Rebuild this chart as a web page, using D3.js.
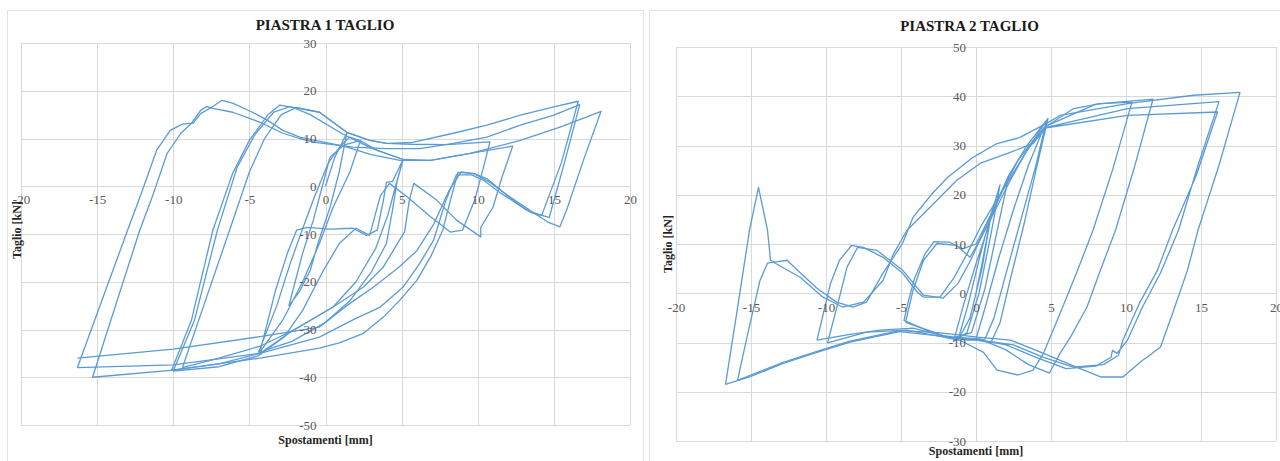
<!DOCTYPE html>
<html>
<head>
<meta charset="utf-8">
<script src="https://cdn.jsdelivr.net/npm/d3@7"></script>
<style>
	body { margin: 0; background: #ffffff; }
	.tick_label { font-family: "Liberation Serif", "Times New Roman", serif; font-size: 13px; fill: #595959; }
	.title { font-family: "Liberation Serif", "Times New Roman", serif; font-size: 15px; font-weight: bold; fill: #1a1a1a; }
	.axis_title { font-family: "Liberation Serif", "Times New Roman", serif; font-size: 12px; font-weight: bold; fill: #262626; }
	.grid line { stroke: #d9d9d9; stroke-width: 1; shape-rendering: crispEdges; }
	.panel { fill: none; stroke: #e3e3e3; stroke-width: 1; shape-rendering: crispEdges; }
	.loop { fill: none; stroke: #5b9bd5; stroke-width: 1.3; stroke-linejoin: round; }
</style>
</head>
<body>
<div id="chart"></div>
<script>
// tick values, same x axis for both plates
const x_ticks = [-20, -15, -10, -5, 0, 5, 10, 15, 20];
const p1_y_ticks = [-50, -40, -30, -20, -10, 0, 10, 20, 30];
const p2_y_ticks = [-30, -20, -10, 0, 10, 20, 30, 40, 50];

const p1_title = "PIASTRA 1 TAGLIO";
const p2_title = "PIASTRA 2 TAGLIO";
const x_title = "Spostamenti [mm]";
const y_title = "Taglio [kN]";

// PIASTRA 1 - cycles [spostamento, taglio]
const p1_cycle1 = [[0,0],[0.6,6],[1.4,11.1],[0.9,3],[0.3,-4.4],[-0.5,-12],[-1.0,-17.6],[-1.7,-22],[-2.4,-25],[-1.5,-14],[-0.8,-7.1],[0.3,6.1],[1.2,8.6],[2.3,9.6],[1.6,3],[0.5,-4.4],[-0.4,-12],[-1.5,-20],[-2.8,-28],[-4.3,-34.7]];
const p1_cycle2 = [[-4.3,-34.7],[-3.3,-22],[-2.5,-14],[-1.9,-9.2],[-1.2,-8.6],[0.3,-9.0],[1.8,-8.8],[2.7,-10.3],[3.4,-9.2],[3.8,-3],[4.0,0.8],[4.4,1.0],[5.1,5.6],[4.7,1],[4.4,-5],[4.0,-12],[3.0,-18],[1.6,-24],[0,-28.5],[-2.2,-32.5],[-4.4,-34.8],[-3.2,-25],[-2.3,-16],[-1.4,-8],[-0.7,-2],[0.2,5],[1.0,8.5],[1.6,10.3],[2.3,9.5],[3.4,7.5],[5.1,5.6],[4.6,0],[4.1,-6],[3.3,-13],[2,-20],[0.5,-25.3],[-2.1,-30.1],[-4.3,-35]];
const p1_cycle3 = [[-4.3,-35],[-7,-37.2],[-10.1,-38.5],[-8.8,-28],[-7.4,-9.2],[-6.1,2.7],[-5.0,9.6],[-3.8,14.9],[-3.0,17],[-2,16.4],[-0.4,15.5],[1.4,11.3],[2.9,9.6],[4.0,9.0],[5.7,8.8],[8,8.7],[10.8,9.3],[10.3,3],[9.8,-2.9],[9.0,-9.2],[8.2,-9.6],[6.9,-6.4],[5.4,-2.3],[4.2,0.6],[3.6,-2],[2.9,-10.3],[2.0,-8.8],[0.9,-12],[-0.2,-18],[-1.5,-26],[-2.7,-31.5],[-4.4,-35.5],[-7,-37.8],[-10,-38.7]];
const p1_cycle4 = [[-10,-38.7],[-8.6,-28],[-7.1,-9.2],[-5.8,4],[-4.6,11],[-3.4,15.5],[-2.3,16.7],[-1,15],[1.1,11],[3,8],[5.1,5.6],[6.9,5.4],[9.5,6.9],[12.3,8.4],[11.6,2],[11.0,-4.4],[10.2,-8.6],[10.2,-10.6],[8.6,-7.1],[7.3,-2.9],[5.8,0.6],[5.5,-3],[5.2,-9.5],[3.8,-16.9],[2.5,-21.1],[0.5,-25.3],[-2,-30],[-4.3,-33.5],[-7,-36],[-9.4,-38]];
const p1_cycle5 = [[-9.4,-38],[-8,-25],[-6.3,-9.2],[-5,3],[-4,10],[-2.9,15],[-1.9,16.5],[-0.4,15.5],[1.4,11.3],[2.9,9.6],[4.0,9.0],[5.7,9.2],[8.4,11.1],[10.6,12.8],[12.8,14.9],[15,16.6],[16.6,17.8],[15.5,5],[14.2,-6.1],[13.2,-5.0],[12.3,-2.9],[11.5,-0.8],[10.6,1.6],[9.7,2.7],[8.7,2.9],[8.2,-3],[7.7,-9.2],[6.9,-14.8],[6.0,-19.7],[4.9,-23.8],[3.8,-27.4],[2.5,-30.8],[0.9,-32.8],[-0.4,-33.9],[-4.3,-36],[-10,-38.5],[-15.3,-40]];
const p1_cycle6 = [[-15.3,-40],[-12.2,-9.2],[-11.3,-1.5],[-10.4,6.9],[-9.5,11.1],[-8.8,13.2],[-8.2,15.9],[-7.8,16.7],[-7.4,16.3],[-6.1,15.5],[-4.3,13.4],[-2.8,11.1],[-1.7,10.0],[-0.7,9.2],[1.8,8.2],[4.0,7.9],[6.2,7.9],[8.4,9.0],[10.6,10.3],[12.8,12.8],[15.0,14.9],[16.7,17.1],[15.7,5],[14.7,-6.5],[13.5,-5.5],[12.5,-3.5],[11.4,-1.2],[10.4,1.2],[9.6,2.4],[8.6,2.4],[7.9,-3],[7.1,-11.3],[6.2,-16.1],[5.1,-21.1],[3.6,-25.3],[1.8,-28],[-0.4,-31.6],[-4.3,-35],[-10,-37.4],[-16.3,-38]];
const p1_cycle7 = [[-16.3,-38],[-13.0,-9.2],[-12.1,-1.5],[-11.1,7.5],[-10.2,11.7],[-9.4,13.0],[-8.7,13.2],[-8.2,15.2],[-7.4,16.7],[-6.8,18.0],[-6.1,17.4],[-4.8,15.5],[-3.8,13.8],[-2.8,11.7],[-1.7,10.3],[-0.7,9.6],[1.2,8.4],[3,6.6],[4.9,5.4],[6.9,5.4],[9.5,6.9],[12.8,9.6],[15.5,12.5],[18.1,15.7],[17,6],[15.9,-4.4],[15.4,-8.5],[14.6,-7.5],[13.4,-5],[12,-2],[10.8,0.8],[9.8,2.6],[8.9,3.0],[8.1,-1],[7.1,-8],[6,-13.5],[4.8,-17],[3.2,-21],[1.4,-25],[-0.4,-29.5],[-4.3,-31.5],[-10,-34.1],[-16.3,-36]];

// PIASTRA 2
const p2_cycle1 = [[0,0],[0.4,6],[0.9,14],[0.4,5],[-0.4,-5],[-1.2,-9.5],[-0.5,-2],[0.3,8],[1.0,16],[1.6,22],[1.0,12],[0.2,0],[-0.6,-8],[-1.5,-9.8],[-0.8,-2],[0,6],[1.2,17],[2.2,24],[1.5,14],[0.6,1],[-0.3,-8],[-1.7,-9.2],[-3.2,-7.5],[-4.7,-5.9]];
const p2_cycle2 = [[-4.7,-5.9],[-4.2,0.6],[-3.5,6.7],[-2.6,10.1],[-1.3,9.7],[-0.4,7.3],[0.3,11],[1.3,17],[2.3,23],[3.3,28.5],[4.7,35.1],[4.0,26],[3.0,15],[2.0,4],[1.2,-5],[0.6,-9.3],[-0.6,-9.5],[-1.9,-8.9],[-3.4,-7.4],[-4.8,-5.5],[-4.5,-1.5],[-4.1,3],[-3.4,8],[-2.8,10.5],[-1.8,10.4],[-0.9,9],[0,10],[1.0,16],[2.2,24],[3.4,30],[4.8,35.5],[4.0,25],[3.2,14],[2.3,3],[1.6,-6],[1.0,-10],[0,-9.5],[-2.4,-8.5],[-4.2,-7.1],[-6.4,-7.5],[-8.5,-8.4],[-10.6,-9.5]];
const p2_cycle3 = [[-10.6,-9.5],[-9.7,2.0],[-9.1,6.7],[-8.3,9.7],[-7.5,9.3],[-6.2,7.3],[-4.9,4.1],[-3.9,0.2],[-3.5,-0.8],[-2.4,-0.8],[-1.5,3],[-0.6,8],[0.4,14],[1.4,19],[2.4,24],[3.4,29],[4.5,33.5],[6.5,37.5],[8.3,38.5],[10.4,38.8],[9.1,25],[7.8,12.8],[6.7,4.1],[5.6,-4.1],[4.5,-12.2],[3.8,-15.6],[2.8,-16.6],[1.4,-15.6],[0.5,-12],[-1.1,-9.5],[-4.6,-7.5],[-7.3,-7.9],[-9.9,-10.1]];
const p2_cycle4 = [[-9.9,-10.1],[-9.1,-0.8],[-8.6,5.3],[-7.9,9.3],[-6.6,8.7],[-4.9,4.7],[-3.5,-0.4],[-2.2,-1],[-1.2,2],[-0.3,7],[0.7,14],[1.8,21],[2.8,27],[3.8,31],[4.7,34],[8,38.4],[11.8,39.4],[10.6,26],[9.3,12.8],[8.3,4.7],[7.4,-2.8],[6.3,-8.9],[5.6,-12.2],[4.9,-16.2],[3.5,-14.5],[2,-11.5],[0.2,-9.2],[-1.7,-8.9],[-5.1,-7.8],[-8.4,-9.9],[-10.6,-12],[-12.9,-14.3],[-15.1,-17],[-16.7,-18.5]];
const p2_cycle5 = [[-16.7,-18.5],[-15.9,-3],[-15.1,12.8],[-14.5,21.5],[-13.9,12.8],[-13.7,6.7],[-13.4,6.3],[-12.6,6.7],[-11.7,4.1],[-10.6,1.0],[-9.3,-1.8],[-8.2,-2.8],[-7.3,-1.8],[-6.2,4.1],[-4.9,10.1],[-4.2,15.4],[-2.9,20.3],[-1.9,23.5],[-0.2,27.6],[1.4,30.4],[2.9,31.6],[4.7,34.5],[5.6,36.1],[10.1,38.5],[14.5,40.2],[17.6,40.8],[16.2,26],[14.8,12.8],[14.1,4.7],[13.1,-4.1],[12.3,-10.9],[11.4,-13],[11.1,-13.6],[9.8,-17],[8.3,-17],[6.7,-15],[4.5,-12.2],[2.3,-9.5],[0.1,-8.9],[-2.5,-8],[-5.1,-7.6],[-8.4,-9.7],[-10.6,-11.8],[-12.9,-14.1],[-15.9,-17.7]];
const p2_cycle6 = [[-15.9,-17.7],[-15.2,-8],[-14.4,2.6],[-13.9,6.1],[-13.5,6.3],[-11.7,3.2],[-10.2,-0.8],[-8.9,-2.8],[-7.5,-1.8],[-6.2,2.6],[-5.5,8],[-4.6,12.8],[-2.6,18.9],[-1.3,22.9],[0.3,26.4],[2.1,28.4],[3.8,30.4],[4.7,33.7],[10.1,37.5],[16.2,38.9],[14.8,26],[13.5,12.8],[12.3,4.1],[11.1,-2.8],[10.1,-9.5],[9.4,-12.2],[9.1,-11.6],[9.0,-13],[8,-14.8],[6,-15.3],[4,-13],[2,-10.5],[0,-9.3],[0.6,-3],[1.5,7],[2.5,17],[3.5,26],[4.5,33.5],[10.1,36.1],[16.1,36.8],[14.7,24],[13.1,12.8],[12.1,4.7],[10.9,-2],[9.8,-9.5],[9.5,-12.6],[8.5,-14.5],[6.5,-15],[4.5,-13],[2.5,-10.5],[0.5,-9.6],[-1,-9.2]];

const p1_cycles = [p1_cycle1, p1_cycle2, p1_cycle3, p1_cycle4, p1_cycle5, p1_cycle6, p1_cycle7];
const p2_cycles = [p2_cycle1, p2_cycle2, p2_cycle3, p2_cycle4, p2_cycle5, p2_cycle6];


class loop_chart {

	constructor(opts) {
		this.svg = opts.svg;
		this.cycles = opts.cycles;
		this.x_ticks = opts.x_ticks;
		this.y_ticks = opts.y_ticks;
		this.title = opts.title;
		this.box = opts.box;       // plot area, page pixels
		this.panel = opts.panel;   // the grey frame around the whole chart
		this.text_pos = opts.text_pos;

		this.init();
	}

	init() {
		this.g = this.svg.append("g");
		this.create_scales();
		this.create_frame();
		this.create_grid();
		this.create_lines();
		this.create_axes();
		this.create_titles();
	}

	create_scales() {
		this.x_scale = d3.scaleLinear()
						.domain(d3.extent(this.x_ticks))
						.range([this.box.left, this.box.right]);

		this.y_scale = d3.scaleLinear()
						.domain(d3.extent(this.y_ticks))
						.range([this.box.bottom, this.box.top]);
	}

	create_frame() {
		this.g.append("rect")
			.attr("class", "panel")
			.attr("x", this.panel.x + 0.5)
			.attr("y", this.panel.y + 0.5)
			.attr("width", this.panel.w)
			.attr("height", this.panel.h);
	}

	create_grid() {
		let grid = this.g.append("g").attr("class", "grid");

		grid.selectAll(".vline")
			.data(this.x_ticks)
			.enter()
			.append("line")
			.attr("class", "vline")
			.attr("x1", d => Math.round(this.x_scale(d)) + 0.5)
			.attr("x2", d => Math.round(this.x_scale(d)) + 0.5)
			.attr("y1", this.y_scale.range()[1])
			.attr("y2", this.y_scale.range()[0]);

		grid.selectAll(".hline")
			.data(this.y_ticks)
			.enter()
			.append("line")
			.attr("class", "hline")
			.attr("y1", d => Math.round(this.y_scale(d)) + 0.5)
			.attr("y2", d => Math.round(this.y_scale(d)) + 0.5)
			.attr("x1", this.x_scale.range()[0])
			.attr("x2", this.x_scale.range()[1]);
	}

	create_lines() {
		const line = d3.line()
						.x(d => this.x_scale(d[0]))
						.y(d => this.y_scale(d[1]));

		this.g.selectAll(".loop")
			.data(this.cycles)
			.enter()
			.append("path")
			.attr("class", "loop")
			.attr("d", line);
	}

	create_axes() {
		// Excel puts the labels on the axes crossing at zero
		// plain hyphen like the original, not d3's unicode minus
		const fmt = d => String(d);

		let x_axis = this.g.append("g")
						.attr("transform", `translate(0, ${this.y_scale(0)})`)
						.call(d3.axisBottom(this.x_scale)
							.tickValues(this.x_ticks)
							.tickFormat(fmt)
							.tickSize(0)
							.tickPadding(this.text_pos.x_pad));

		let y_axis = this.g.append("g")
						.attr("transform", `translate(${this.x_scale(0)}, 0)`)
						.call(d3.axisLeft(this.y_scale)
							.tickValues(this.y_ticks)
							.tickFormat(fmt)
							.tickSize(0)
							.tickPadding(this.text_pos.y_pad));

		[x_axis, y_axis].forEach(a => {
			a.select(".domain").remove();
			a.attr("font-family", null).attr("font-size", null);
			a.selectAll("text")
				.attr("class", "tick_label")
				.attr("fill", null);
		});
	}

	create_titles() {
		this.g.append("text")
			.attr("class", "title")
			.attr("x", this.panel.x + this.panel.w / 2)
			.attr("y", this.text_pos.title_y)
			.attr("text-anchor", "middle")
			.text(this.title);

		this.g.append("text")
			.attr("class", "axis_title")
			.attr("x", (this.box.left + this.box.right) / 2)
			.attr("y", this.text_pos.x_title_y)
			.attr("text-anchor", "middle")
			.text(x_title);

		this.g.append("text")
			.attr("class", "axis_title")
			.attr("transform", `translate(${this.text_pos.y_title_x}, ${this.text_pos.y_title_cy}) rotate(-90)`)
			.attr("text-anchor", "middle")
			.text(y_title);
	}
}


const svg = d3.select("#chart")
				.append("svg")
				.attr("width", 1280)
				.attr("height", 461)
				.style("display", "block");

const chart1 = new loop_chart({
	svg: svg,
	cycles: p1_cycles,
	x_ticks: x_ticks,
	y_ticks: p1_y_ticks,
	title: p1_title,
	box: {left: 21, right: 630, top: 43, bottom: 425},
	panel: {x: 7, y: 10, w: 636, h: 470},
	text_pos: {x_pad: 9, y_pad: 9, title_y: 30, x_title_y: 444, y_title_x: 21, y_title_cy: 230}
});

const chart2 = new loop_chart({
	svg: svg,
	cycles: p2_cycles,
	x_ticks: x_ticks,
	y_ticks: p2_y_ticks,
	title: p2_title,
	box: {left: 676, right: 1276, top: 47, bottom: 441},
	panel: {x: 649, y: 10, w: 641, h: 470},
	text_pos: {x_pad: 10, y_pad: 10, title_y: 31, x_title_y: 455, y_title_x: 672, y_title_cy: 244}
});
</script>
</body>
</html>
